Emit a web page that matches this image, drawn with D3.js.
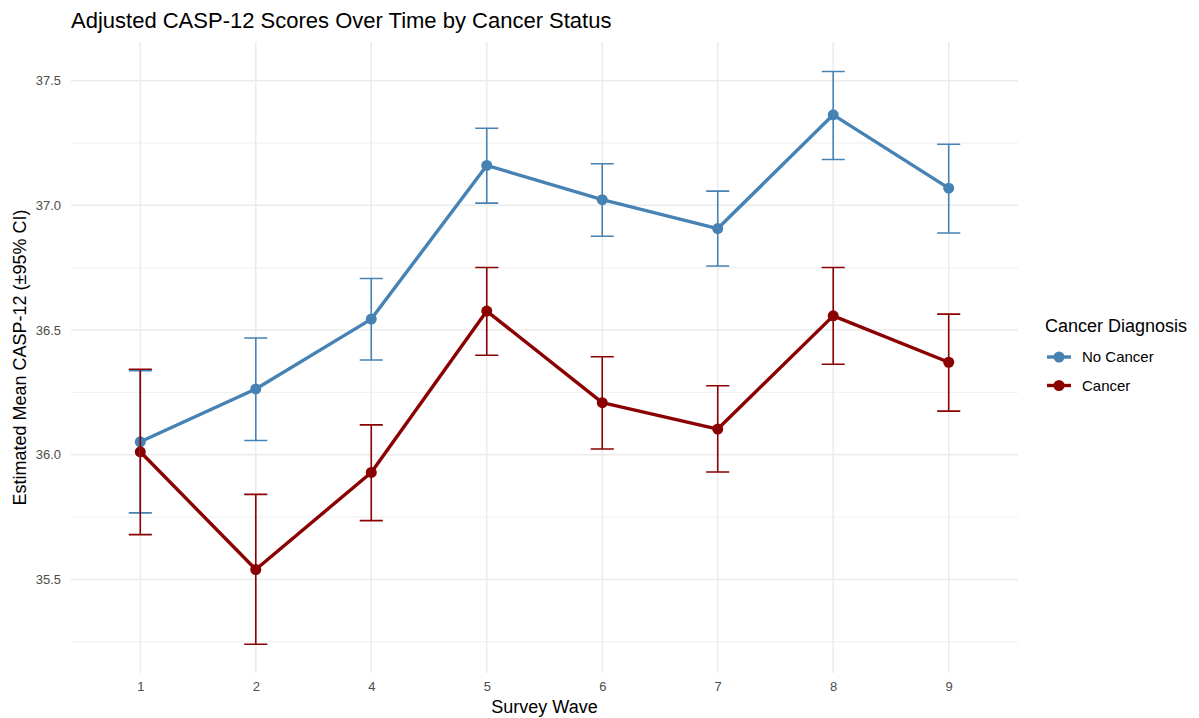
<!DOCTYPE html>
<html lang="en">
<head>
    <meta charset="UTF-8" />
    <title>Adjusted CASP-12 Scores</title>
    <script src="https://d3js.org/d3.v7.min.js"></script>
    <style>
        body { margin: 0; background: #fff; }
        text { font-family: "Liberation Sans", Arial, sans-serif; }
    </style>
</head>
<body>
    <script>
        var w = 1199;
        var h = 718;

        // survey waves (wave 3 is missing in the source)
        var waves = ["1", "2", "4", "5", "6", "7", "8", "9"];

        // No Cancer: mean, lower and upper 95% CI
        var noCancerMean  = [36.052, 36.264, 36.544, 37.160, 37.023, 36.907, 37.363, 37.069];
        var noCancerLower = [35.767, 36.057, 36.380, 37.009, 36.876, 36.757, 37.184, 36.889];
        var noCancerUpper = [36.337, 36.468, 36.707, 37.309, 37.167, 37.057, 37.537, 37.245];

        // Cancer: mean, lower and upper 95% CI
        var cancerMean  = [36.012, 35.540, 35.929, 36.576, 36.209, 36.103, 36.557, 36.371];
        var cancerLower = [35.680, 35.240, 35.736, 36.399, 36.023, 35.931, 36.363, 36.175];
        var cancerUpper = [36.343, 35.841, 36.120, 36.751, 36.393, 36.277, 36.751, 36.564];

        var yTicks = [35.5, 36.0, 36.5, 37.0, 37.5];
        var yMinor = [35.25, 35.75, 36.25, 36.75, 37.25];

        var seriesNames = ["No Cancer", "Cancer"];
        var colours = ["#4682B4", "#8B0000"];

        var series = [
            { name: seriesNames[0], mean: noCancerMean, lo: noCancerLower, hi: noCancerUpper, colour: colours[0] },
            { name: seriesNames[1], mean: cancerMean, lo: cancerLower, hi: cancerUpper, colour: colours[1] }
        ];

        var panel = { left: 71, right: 1018, top: 42, bottom: 673 };

        var svg = d3.select("body")
                    .append("svg")
                    .attr("width", w)
                    .attr("height", h);

        var xScale = d3.scalePoint()
            .domain(waves)
            .range([panel.left, panel.right])
            .padding(0.6);

        var yScale = d3.scaleLinear()
            .domain([35.125, 37.655])
            .range([panel.bottom, panel.top]);

        var capHalf = xScale.step() * 0.1;

        // grid
        svg.append("g").selectAll("line")
            .data(yMinor)
            .enter()
            .append("line")
            .attr("x1", panel.left).attr("x2", panel.right)
            .attr("y1", function(d){ return yScale(d); })
            .attr("y2", function(d){ return yScale(d); })
            .attr("stroke", "#EBEBEB")
            .attr("stroke-width", 0.8);

        svg.append("g").selectAll("line")
            .data(yTicks)
            .enter()
            .append("line")
            .attr("x1", panel.left).attr("x2", panel.right)
            .attr("y1", function(d){ return yScale(d); })
            .attr("y2", function(d){ return yScale(d); })
            .attr("stroke", "#EBEBEB")
            .attr("stroke-width", 1.5);

        svg.append("g").selectAll("line")
            .data(waves)
            .enter()
            .append("line")
            .attr("y1", panel.top).attr("y2", panel.bottom)
            .attr("x1", function(d){ return xScale(d); })
            .attr("x2", function(d){ return xScale(d); })
            .attr("stroke", "#EBEBEB")
            .attr("stroke-width", 1.5);

        // axes (labels only, like theme_minimal)
        var xAxis = svg.append("g")
            .attr("transform", "translate(0," + panel.bottom + ")")
            .call(d3.axisBottom(xScale).tickSize(0).tickPadding(9));
        var yAxis = svg.append("g")
            .attr("transform", "translate(" + panel.left + ",0)")
            .call(d3.axisLeft(yScale).tickValues(yTicks).tickFormat(d3.format(".1f")).tickSize(0).tickPadding(10));
        [xAxis, yAxis].forEach(function(a){
            a.select(".domain").remove();
            a.selectAll("text")
                .attr("fill", "#4D4D4D")
                .style("font-size", "13px")
                .style("font-family", "Liberation Sans, Arial, sans-serif");
        });

        // lines
        series.forEach(function(s){
            var line = d3.line()
                .x(function(d, i){ return xScale(waves[i]); })
                .y(function(d){ return yScale(d); });
            svg.append("path")
                .datum(s.mean)
                .attr("d", line)
                .attr("fill", "none")
                .attr("stroke", s.colour)
                .attr("stroke-width", 3.4)
                .attr("stroke-linejoin", "round");
        });

        // points
        series.forEach(function(s){
            svg.append("g").selectAll("circle")
                .data(s.mean)
                .enter()
                .append("circle")
                .attr("cx", function(d, i){ return xScale(waves[i]); })
                .attr("cy", function(d){ return yScale(d); })
                .attr("r", 5.5)
                .attr("fill", s.colour);
        });

        // error bars
        series.forEach(function(s){
            var g = svg.append("g")
                .attr("stroke", s.colour)
                .attr("stroke-width", 1.6)
                .attr("fill", "none");
            waves.forEach(function(wv, i){
                var x = xScale(wv);
                var y0 = yScale(s.lo[i]);
                var y1 = yScale(s.hi[i]);
                g.append("path")
                    .attr("d", "M" + (x - capHalf) + "," + y1 + "H" + (x + capHalf) +
                               "M" + x + "," + y1 + "V" + y0 +
                               "M" + (x - capHalf) + "," + y0 + "H" + (x + capHalf));
            });
        });

        // titles
        svg.append("text")
            .attr("x", panel.left)
            .attr("y", 28)
            .attr("fill", "#000")
            .style("font-size", "22px")
            .text("Adjusted CASP-12 Scores Over Time by Cancer Status");

        svg.append("text")
            .attr("x", (panel.left + panel.right) / 2)
            .attr("y", 713)
            .attr("text-anchor", "middle")
            .attr("fill", "#000")
            .style("font-size", "18px")
            .text("Survey Wave");

        svg.append("text")
            .attr("transform", "translate(26," + ((panel.top + panel.bottom) / 2) + ") rotate(-90)")
            .attr("text-anchor", "middle")
            .attr("fill", "#000")
            .style("font-size", "18px")
            .text("Estimated Mean CASP-12 (\u00B195% CI)");

        // legend
        var legend = svg.append("g").attr("transform", "translate(1045,0)");
        legend.append("text")
            .attr("x", 0)
            .attr("y", 332)
            .attr("fill", "#000")
            .style("font-size", "18px")
            .text("Cancer Diagnosis");

        legend.selectAll("g.key")
            .data(series)
            .enter()
            .append("g")
            .attr("class", "key")
            .attr("transform", function(d, i){ return "translate(0," + (357 + i * 28.5) + ")"; })
            .each(function(d){
                var k = d3.select(this);
                k.append("line")
                    .attr("x1", 2).attr("x2", 26)
                    .attr("y1", 0).attr("y2", 0)
                    .attr("stroke", d.colour)
                    .attr("stroke-width", 3.4);
                k.append("circle")
                    .attr("cx", 14).attr("cy", 0)
                    .attr("r", 5.5)
                    .attr("fill", d.colour);
                k.append("text")
                    .attr("x", 37)
                    .attr("y", 5)
                    .attr("fill", "#000")
                    .style("font-size", "15px")
                    .text(d.name);
            });
    </script>
</body>
</html>
